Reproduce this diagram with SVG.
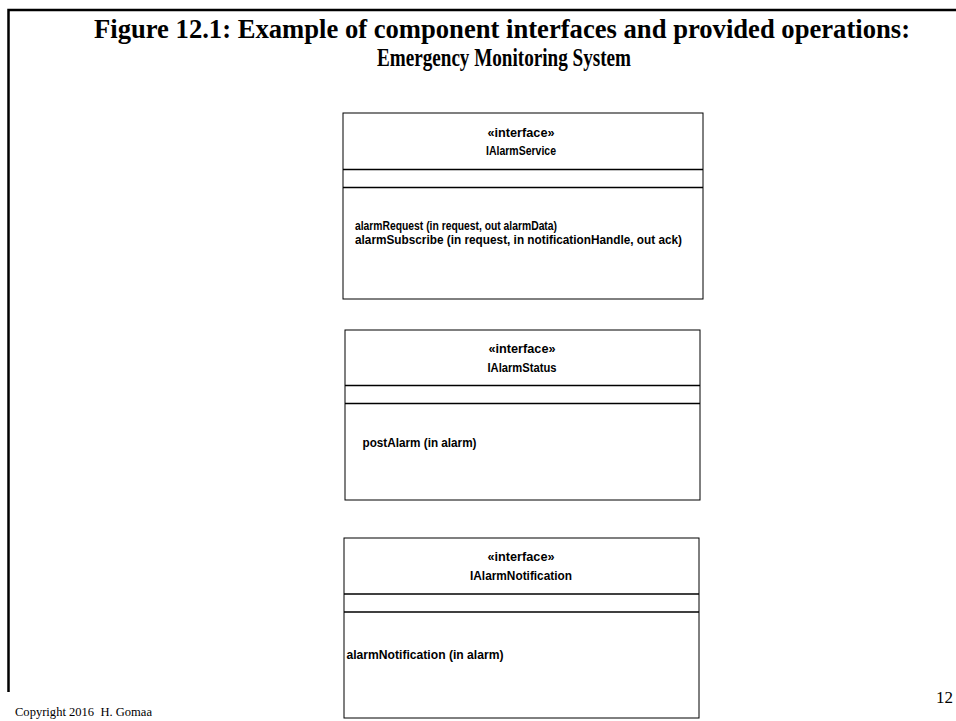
<svg xmlns="http://www.w3.org/2000/svg" width="956" height="721" viewBox="0 0 956 721">
  <style>
    .title { font-family: "Liberation Serif", "Times New Roman", serif; font-weight: bold; fill: #000; }
    .foot { font-family: "Liberation Serif", "Times New Roman", serif; fill: #000; }
    .box { fill: #fff; stroke: #000; stroke-width: 1; }
    .div { stroke: #000; stroke-width: 1.3; }
    .lbl { font-family: "Liberation Sans Narrow", "Liberation Sans", sans-serif; font-weight: bold; font-size: 12.5px; fill: #000; }
    .hdr { text-anchor: middle; }
  </style>
  <rect width="956" height="721" fill="#fff"/>

  <!-- slide frame: top rule and left rule -->
  <path d="M8.5 692 V10 H956" fill="none" stroke="#000" stroke-width="2.5"/>

  <!-- heading -->
  <text class="title" x="502" y="38" font-size="27" text-anchor="middle" textLength="816" lengthAdjust="spacingAndGlyphs">Figure 12.1: Example of component interfaces and provided operations:</text>
  <text class="title" x="504" y="66" font-size="25" text-anchor="middle" textLength="254" lengthAdjust="spacingAndGlyphs">Emergency Monitoring System</text>

  <!-- interface classes -->
  <g id="IAlarmService">
    <rect class="box" x="343" y="113" width="360" height="186"/>
    <line class="div" x1="343" y1="169.5" x2="703" y2="169.5"/>
    <line class="div" x1="343" y1="187.5" x2="703" y2="187.5"/>
    <text class="lbl hdr" x="521" y="137" textLength="67" lengthAdjust="spacingAndGlyphs">«interface»</text>
    <text class="lbl hdr" x="521" y="155" textLength="70" lengthAdjust="spacingAndGlyphs">IAlarmService</text>
    <text class="lbl" x="355" y="230" textLength="202" lengthAdjust="spacingAndGlyphs">alarmRequest (in request, out alarmData)</text>
    <text class="lbl" x="355" y="244" textLength="327" lengthAdjust="spacingAndGlyphs">alarmSubscribe (in request, in notificationHandle, out ack)</text>
  </g>

  <g id="IAlarmStatus">
    <rect class="box" x="345" y="330" width="355" height="170"/>
    <line class="div" x1="345" y1="385.5" x2="700" y2="385.5"/>
    <line class="div" x1="345" y1="403.5" x2="700" y2="403.5"/>
    <text class="lbl hdr" x="522" y="353" textLength="67" lengthAdjust="spacingAndGlyphs">«interface»</text>
    <text class="lbl hdr" x="522" y="371.5" textLength="69" lengthAdjust="spacingAndGlyphs">IAlarmStatus</text>
    <text class="lbl" x="362.5" y="447" textLength="114" lengthAdjust="spacingAndGlyphs">postAlarm (in alarm)</text>
  </g>

  <g id="IAlarmNotification">
    <rect class="box" x="344" y="538" width="355" height="180"/>
    <line class="div" x1="344" y1="594" x2="699" y2="594"/>
    <line class="div" x1="344" y1="612" x2="699" y2="612"/>
    <text class="lbl hdr" x="521" y="561" textLength="67" lengthAdjust="spacingAndGlyphs">«interface»</text>
    <text class="lbl hdr" x="521" y="579.5" textLength="102" lengthAdjust="spacingAndGlyphs">IAlarmNotification</text>
    <text class="lbl" x="346.5" y="658.5" textLength="157" lengthAdjust="spacingAndGlyphs">alarmNotification (in alarm)</text>
  </g>

  <!-- no connectors in this figure -->
  <g id="connectors"/>

  <!-- footer -->
  <text class="foot" x="15" y="716" font-size="12" textLength="137" lengthAdjust="spacingAndGlyphs">Copyright 2016&#160; H. Gomaa</text>
  <text class="foot" x="936" y="703" font-size="17">12</text>
</svg>
